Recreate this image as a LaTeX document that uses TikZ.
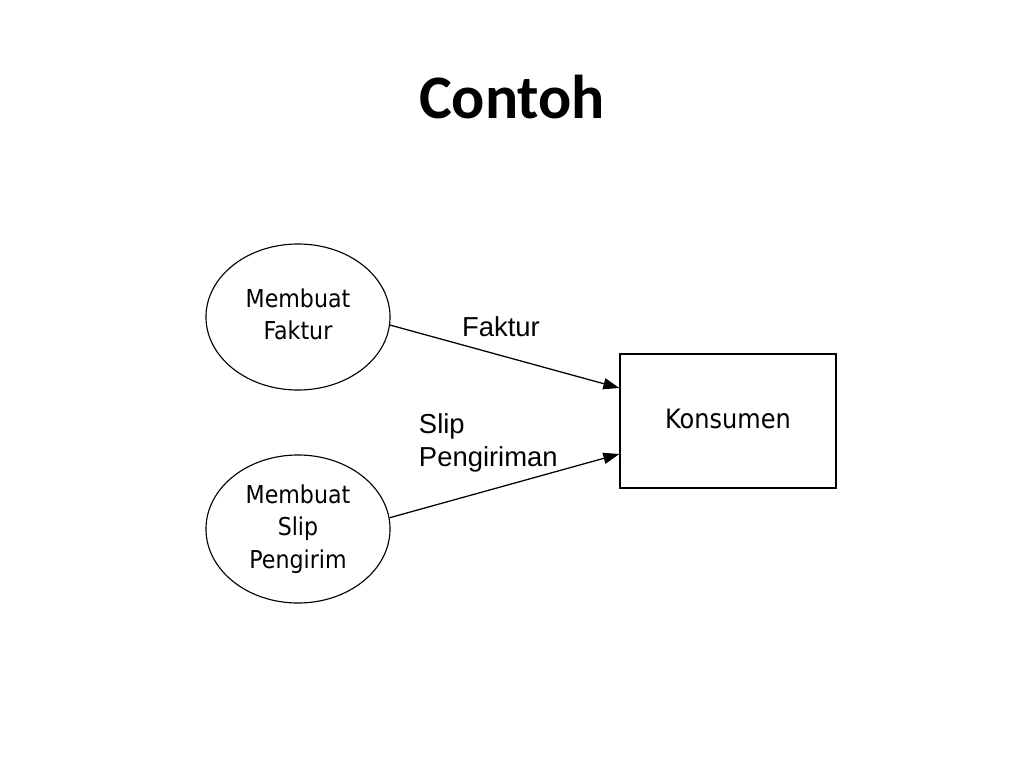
\documentclass[tikz,border=0pt]{standalone}
\usepackage{fontspec}
\setmainfont{Liberation Sans}
\newfontfamily\titlefont{Carlito}
\newfontfamily\procfont{DejaVu Sans Condensed}
\usetikzlibrary{shapes.geometric,arrows.meta}

\tikzset{
  proc/.style={draw, line width=0.8pt, ellipse, minimum width=4.6cm, minimum height=3.65cm, align=center,
    font=\procfont\fontsize{17.5}{23}\selectfont, inner sep=0pt},
  entity/.style={draw, line width=0.9pt, rectangle, minimum width=5.4cm, minimum height=3.35cm,
    font=\procfont\fontsize{19}{23}\selectfont},
  flow/.style={draw, line width=0.9pt, -{Triangle[length=0.4cm,width=0.28cm]}},
  flowlabel/.style={font=\fontsize{19.5}{23}\selectfont, align=left}
}

\begin{document}
\begin{tikzpicture}[x=0.025cm,y=-0.025cm]
\useasboundingbox (0,0) rectangle (1024,768);

\node [font=\titlefont\bfseries\fontsize{44}{50}\selectfont] (title) at (512,97) {Contoh};

\node [proc] (faktur) at (298,317) {\raisebox{3pt}{\begin{tabular}{@{}c@{}}Membuat\\Faktur\end{tabular}}};
\node [proc, minimum height=3.7cm] (slip) at (298,529) {Membuat\\Slip\\Pengirim};
\node [entity] (kons) at (728,421) {\raisebox{3pt}{Konsumen}};

\draw [flow] (faktur.-5) -- ([yshift=0.825cm]kons.west);
\draw [flow] (slip.7) -- ([yshift=-0.825cm]kons.west);

\node [flowlabel] (lfaktur) at (501,327) {Faktur};
\node [flowlabel, anchor=west] (lslip) at (414,443) {Slip\\Pengiriman};

\end{tikzpicture}
\end{document}
